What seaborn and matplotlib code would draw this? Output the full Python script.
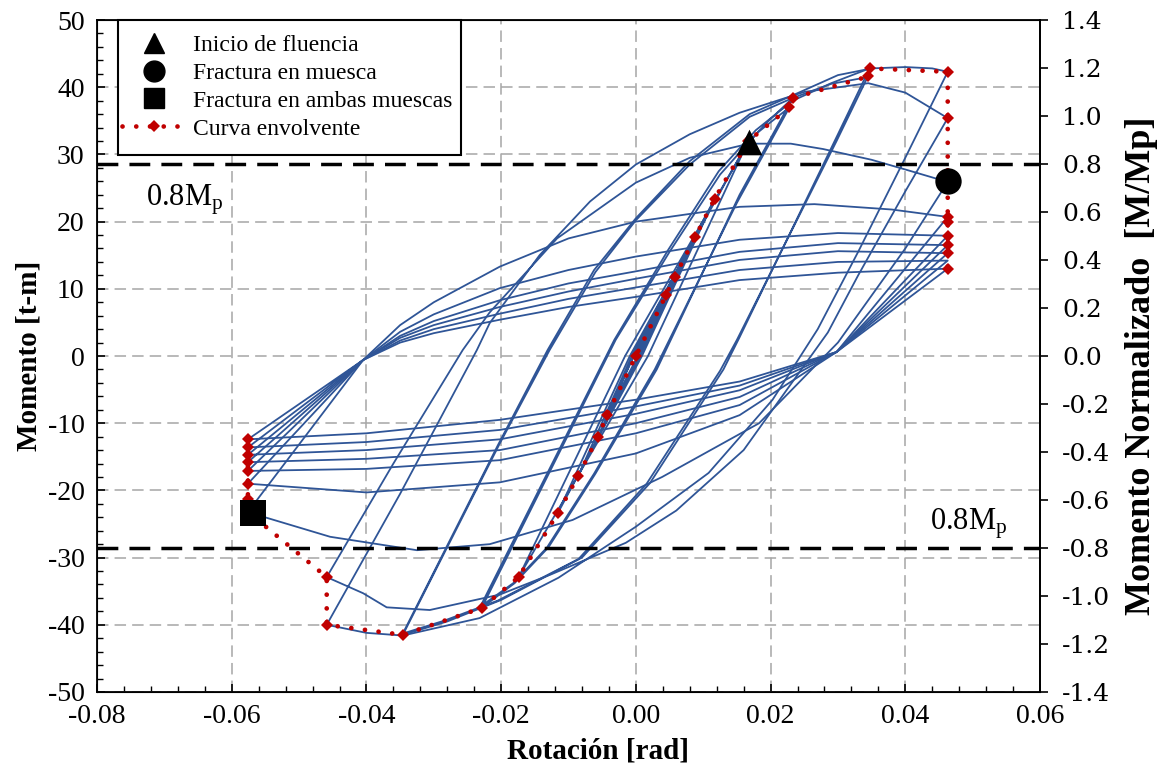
import matplotlib
matplotlib.use("Agg")
import matplotlib.pyplot as plt
from matplotlib.lines import Line2D
from matplotlib.patches import Rectangle
from matplotlib.ticker import MultipleLocator, FuncFormatter
import seaborn as sns
import pandas as pd

# ---- datos (rotación [rad], momento [t-m]) ----
# ciclos pequeños (rango elástico)
rot_elastico = [0.0000, 0.0045, 0.0003, -0.0043, -0.0003, 0.0058, 0.0004, -0.0056, -0.0004, 0.0088,
                0.0006, -0.0086, -0.0006, 0.0117, 0.0009, -0.0116, -0.0009, 0.0167, 0.0018, -0.0174,
                -0.0016, 0.0165]
mom_elastico = [0.0, 9.1, 0.0, -8.8, 0.0, 11.8, 0.0, -12.0, 0.0, 17.7,
                0.0, -17.9, 0.0, 23.4, 0.0, -23.4, 0.0, 32.0, 0.0, -32.9,
                0.0, 31.5]

# ciclos +-0.023 rad
rot_023 = [0.0165, 0.0195, 0.0233, 0.0154, 0.0031, -0.0060, -0.0130, -0.0180, -0.0229,
           -0.0030, 0.0050, 0.0125, 0.0180, 0.0228, 0.0150, 0.0028, -0.0062, -0.0132, -0.0182, -0.0231,
           -0.0032, 0.0048, 0.0123, 0.0178, 0.0233, 0.0290, 0.0347]
mom_023 = [31.5, 34.8, 38.4, 24.0, -2.0, -17.5, -28.5, -33.8, -37.5,
           2.4, 15.5, 27.0, 33.2, 37.0, 22.8, -2.0, -17.5, -28.5, -33.8, -37.3,
           2.4, 15.8, 27.5, 33.6, 38.0, 40.6, 42.8]

# ciclos +-0.035 rad
rot_035 = [0.0347, 0.0300, 0.0154, 0.0130, 0.0021, -0.0080, -0.0200, -0.0280, -0.0346,
           -0.0202, -0.0128, -0.0060, 0.0000, 0.0080, 0.0169, 0.0233, 0.0290, 0.0344,
           0.0298, 0.0150, 0.0125, 0.0016, -0.0085, -0.0205, -0.0285, -0.0346,
           -0.0205, -0.0131, -0.0062, 0.0000, 0.0080, 0.0169, 0.0233, 0.0300, 0.0350, 0.0400, 0.0440, 0.0463]
mom_035 = [42.8, 33.0, 2.8, -2.0, -18.9, -30.0, -36.3, -39.5, -41.5,
           -13.0, 0.9, 12.5, 20.2, 28.5, 35.6, 38.4, 40.5, 41.5,
           32.0, 2.4, -2.2, -19.0, -30.2, -36.4, -39.4, -41.3,
           -13.3, 0.9, 12.8, 20.5, 29.0, 36.0, 38.8, 41.8, 42.8, 43.0, 42.8, 42.3]

# ciclos +-0.046 rad hasta la fractura
rot_046 = [0.0463, 0.0400, 0.0330, 0.0270, 0.0203, 0.0108, 0.0000, -0.0115, -0.0232, -0.0346, -0.0400, -0.0459,
           -0.0350, -0.0236, -0.0217, -0.0143, -0.0068, 0.0000, 0.0080, 0.0154, 0.0250, 0.0345, 0.0400, 0.0463,
           0.0400, 0.0330, 0.0285, 0.0160, 0.0060, -0.0015, -0.0126, -0.0202, -0.0306, -0.0370, -0.0405, -0.0459,
           -0.0360, -0.0257, -0.0217, -0.0117, 0.0000, 0.0080, 0.0168, 0.0230, 0.0278, 0.0350, 0.0402, 0.0463]
mom_046 = [42.3, 29.5, 15.5, 4.0, -6.5, -17.4, -25.4, -33.0, -39.0, -41.6, -41.2, -40.0,
           -20.5, 0.9, 4.9, 15.0, 23.0, 28.5, 33.0, 36.2, 39.3, 40.6, 39.2, 35.4,
           24.5, 12.0, 3.5, -14.0, -23.0, -27.8, -32.5, -35.5, -37.8, -37.4, -35.3, -32.9,
           -16.0, 0.9, 6.5, 17.5, 25.8, 29.5, 31.6, 31.6, 30.8, 29.2, 27.7, 25.9]

# descarga tras la fractura en una muesca
rot_fractura = [0.0463, 0.0400, 0.0300, 0.0183, 0.0039, -0.0094, -0.0217, -0.0325, -0.0454, -0.0554, -0.0576]
mom_fractura = [25.9, 16.0, 2.0, -10.0, -18.0, -24.4, -28.0, -28.9, -26.9, -23.9, -23.2]

# ciclos estrangulados +0.046 / -0.058 rad
rot_pinch_1 = [-0.0576, -0.0405, -0.0350, -0.0300, -0.0202, -0.0100, 0.0000, 0.0154, 0.0265, 0.0380, 0.0463,
               0.0298, 0.0154, 0.0000, -0.0202, -0.0400, -0.0576]
mom_pinch_1 = [-23.2, -0.6, 4.6, 8.0, 13.3, 17.5, 20.0, 22.2, 22.6, 21.8, 20.7,
               0.6, -8.8, -14.5, -18.8, -20.3, -19.0]
rot_pinch_2 = [-0.0576, -0.0405, -0.0350, -0.0300, -0.0202, -0.0100, 0.0000, 0.0154, 0.0300, 0.0463,
               0.0298, 0.0154, 0.0000, -0.0202, -0.0400, -0.0576]
mom_pinch_2 = [-19.0, -0.6, 3.6, 6.2, 10.1, 12.8, 14.8, 17.3, 18.3, 17.9,
               0.6, -7.3, -11.5, -15.5, -16.8, -17.1]
rot_pinch_3 = [-0.0576, -0.0405, -0.0350, -0.0300, -0.0202, -0.0100, 0.0000, 0.0154, 0.0300, 0.0463,
               0.0298, 0.0154, 0.0000, -0.0202, -0.0400, -0.0576]
mom_pinch_3 = [-17.1, -0.6, 3.0, 5.2, 8.3, 10.8, 12.6, 15.5, 16.8, 16.5,
               0.6, -6.1, -10.0, -14.0, -15.3, -15.8]
rot_pinch_4 = [-0.0576, -0.0405, -0.0350, -0.0300, -0.0202, -0.0100, 0.0000, 0.0154, 0.0300, 0.0463,
               0.0298, 0.0154, 0.0000, -0.0202, -0.0400, -0.0576]
mom_pinch_4 = [-15.8, -0.6, 2.7, 4.6, 7.3, 9.6, 11.5, 14.3, 15.6, 15.3,
               0.6, -5.1, -8.6, -12.4, -14.0, -14.7]
rot_pinch_5 = [-0.0576, -0.0405, -0.0350, -0.0300, -0.0202, -0.0100, 0.0000, 0.0154, 0.0300, 0.0463,
               0.0298, 0.0154, 0.0000, -0.0202, -0.0400, -0.0576]
mom_pinch_5 = [-14.7, -0.6, 2.3, 4.0, 6.3, 8.5, 10.2, 12.8, 14.0, 14.2,
               0.6, -4.4, -7.5, -11.0, -12.8, -13.6]
rot_pinch_6 = [-0.0576, -0.0405, -0.0350, -0.0300, -0.0202, -0.0100, 0.0000, 0.0154, 0.0300, 0.0463,
               0.0298, 0.0154, 0.0000, -0.0202, -0.0400, -0.0576, -0.0405]
mom_pinch_6 = [-13.6, -0.6, 2.0, 3.4, 5.4, 7.3, 8.8, 11.3, 12.4, 13.0,
               0.6, -3.8, -6.5, -9.5, -11.5, -12.4, -0.6]

# curva envolvente
env_rot = [-0.0576, -0.0576, -0.0576, -0.0576, -0.0576, -0.0576, -0.0576, -0.0576, -0.0459, -0.0459,
           -0.0346, -0.0229, -0.0174, -0.0116, -0.0086, -0.0056, -0.0043, 0.0000, 0.0045, 0.0058,
           0.0088, 0.0117, 0.0167, 0.0228, 0.0233, 0.0345, 0.0347, 0.0463, 0.0463, 0.0463,
           0.0463, 0.0463, 0.0463, 0.0463, 0.0463, 0.0463]
env_mom = [-12.4, -13.6, -14.7, -15.8, -17.1, -19.0, -21.3, -23.2, -32.9, -40.0,
           -41.5, -37.5, -32.9, -23.4, -17.9, -12.0, -8.8, 0.0, 9.1, 11.8,
           17.7, 23.4, 32.0, 37.0, 38.4, 41.6, 42.8, 42.3, 35.4, 25.9,
           20.7, 19.9, 17.9, 16.5, 15.3, 13.0]

# puntos singulares
fluencia = (0.0168, 31.8)
fractura_muesca = (0.0463, 26.0)
fractura_ambas = (-0.0569, -23.4)

Mp = 50 / 1.4
lim_08 = 0.8 * Mp

tramos = [
    ("elastico", rot_elastico, mom_elastico),
    ("c023", rot_023, mom_023),
    ("c035", rot_035, mom_035),
    ("c046", rot_046, mom_046),
    ("fractura", rot_fractura, mom_fractura),
    ("p1", rot_pinch_1, mom_pinch_1),
    ("p2", rot_pinch_2, mom_pinch_2),
    ("p3", rot_pinch_3, mom_pinch_3),
    ("p4", rot_pinch_4, mom_pinch_4),
    ("p5", rot_pinch_5, mom_pinch_5),
    ("p6", rot_pinch_6, mom_pinch_6),
]
filas = []
for nombre, r, m in tramos:
    for i, (x, y) in enumerate(zip(r, m)):
        filas.append({"tramo": nombre, "orden": i, "rot": x, "mom": y})
df = pd.DataFrame(filas)

# ---- estilo ----
sns.set_style("ticks")
plt.rcParams["font.family"] = ["Liberation Serif", "DejaVu Serif"]
plt.rcParams["axes.unicode_minus"] = False
plt.rcParams["mathtext.default"] = "regular"
for k in ("text.color", "axes.labelcolor", "xtick.color", "ytick.color", "axes.edgecolor"):
    plt.rcParams[k] = "black"

azul = "#2F5597"
rojo = "#C00000"

fig = plt.figure(figsize=(11.58, 7.70), dpi=100)
ax = fig.add_axes([0.0838, 0.1013, 0.8143, 0.8727])

ax.grid(True, which="major", color="#A6A6A6", linestyle=(0, (7.5, 4)), linewidth=1.1, zorder=0)

sns.lineplot(data=df, x="rot", y="mom", units="tramo", estimator=None, sort=False,
             color=azul, linewidth=1.3, ax=ax, legend=False, zorder=2)

for yy in (lim_08, -lim_08):
    ax.axhline(yy, color="black", linestyle=(0, (6, 3.2)), linewidth=2.5, zorder=3)

sns.lineplot(x=env_rot, y=env_mom, sort=False, estimator=None, color=rojo, linewidth=3.4,
             linestyle=(0, (0.01, 2.9)), dash_capstyle="round", marker="D", markersize=6,
             markeredgewidth=0, ax=ax, zorder=4)

sns.scatterplot(x=[fluencia[0]], y=[fluencia[1]], marker="^", s=340, color="black",
                edgecolor="black", linewidth=0, ax=ax, zorder=6)
sns.scatterplot(x=[fractura_muesca[0]], y=[fractura_muesca[1]], marker="o", s=360, color="black",
                edgecolor="black", linewidth=0, ax=ax, zorder=6)
sns.scatterplot(x=[fractura_ambas[0]], y=[fractura_ambas[1]], marker="s", s=330, color="black",
                edgecolor="black", linewidth=0, ax=ax, zorder=6)

ax.text(-0.0727, 22.4, r"0.8M$_p$", fontsize=22, ha="left", va="baseline")
ax.text(0.0436, -25.8, r"0.8M$_p$", fontsize=22, ha="left", va="baseline")

ax.set_xlim(-0.08, 0.06)
ax.set_ylim(-50, 50)
ax.xaxis.set_major_locator(MultipleLocator(0.02))
ax.xaxis.set_minor_locator(MultipleLocator(0.004))
ax.yaxis.set_major_locator(MultipleLocator(10))
ax.yaxis.set_minor_locator(MultipleLocator(2))
ax.xaxis.set_major_formatter(FuncFormatter(lambda v, p: f"{0 if abs(v) < 1e-9 else v:.2f}"))
ax.yaxis.set_major_formatter(FuncFormatter(lambda v, p: f"{0 if abs(v) < 1e-9 else v:.0f}"))
ax.tick_params(axis="both", which="major", direction="in", length=6, width=1.2, labelsize=20, pad=9)
ax.tick_params(axis="both", which="minor", direction="in", length=4, width=1.0)
ax.tick_params(right=False, top=False, which="both")
for s in ax.spines.values():
    s.set_linewidth(1.3)
    s.set_color("black")
ax.set_xlabel("Rotación [rad]", fontsize=21, fontweight="bold")
ax.xaxis.set_label_coords(0.531, -0.068)
ax.set_ylabel("Momento [t-m]", fontsize=21, fontweight="bold", labelpad=4)

ax2 = ax.twinx()
ax2.set_ylim(-1.4, 1.4)
ax2.yaxis.set_major_locator(MultipleLocator(0.2))
ax2.yaxis.set_major_formatter(FuncFormatter(lambda v, p: f"{0 if abs(v) < 1e-9 else v:.1f}"))
ax2.tick_params(axis="y", direction="out", length=6, width=1.2, labelsize=18, pad=10)
for lab in ax2.get_yticklabels():
    lab.set_family("DejaVu Serif")
ax2.spines["right"].set_linewidth(1.3)
ax2.set_ylabel("Momento Normalizado  [M/Mp]", fontsize=26, fontweight="bold")
ax2.yaxis.set_label_coords(1.09, 0.485)

# marco de la leyenda
marco = Rectangle((0.0223, 0.799), 0.3637, 0.201, transform=ax2.transAxes, facecolor="white",
                  edgecolor="black", linewidth=1.5, zorder=4.5, clip_on=False)
ax2.add_patch(marco)

manejadores = [
    Line2D([], [], linestyle="none", marker="^", markersize=15, color="black"),
    Line2D([], [], linestyle="none", marker="o", markersize=15, color="black"),
    Line2D([], [], linestyle="none", marker="s", markersize=15, color="black"),
    Line2D([], [], color=rojo, linewidth=3.4, linestyle=(0, (0.01, 2.9)), dash_capstyle="round",
           marker="D", markersize=6, markeredgewidth=0),
]
etiquetas = ["Inicio de fluencia", "Fractura en muesca", "Fractura en ambas muescas", "Curva envolvente"]
leg = ax2.legend(manejadores, etiquetas, loc="upper left", bbox_to_anchor=(0.0223, 0.985),
                 borderaxespad=0, fontsize=17, frameon=False, handlelength=2.65,
                 handletextpad=0.34, labelspacing=0.27, borderpad=0.18)
leg.set_zorder(5)

fig.savefig("out.png", dpi=100)
